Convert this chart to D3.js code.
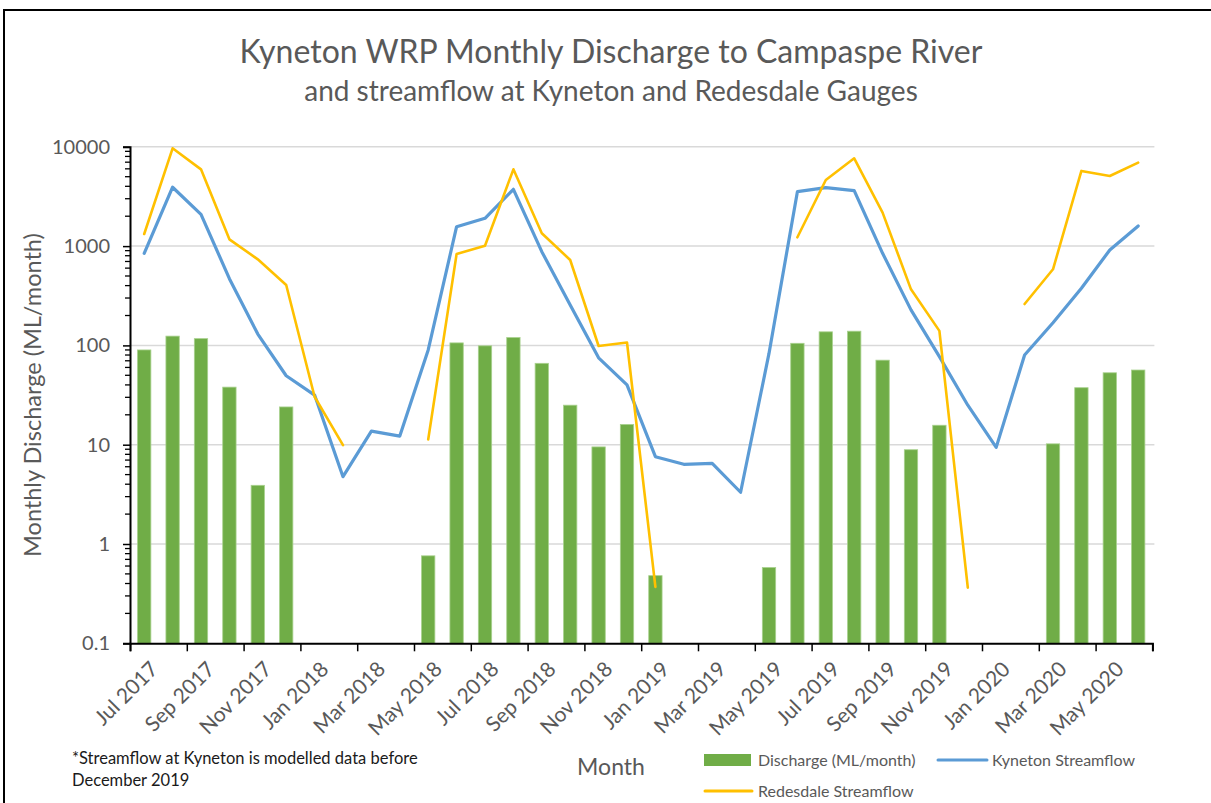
<!DOCTYPE html>
<html>
<head>
<meta charset="utf-8">
<title>Kyneton WRP Monthly Discharge</title>
<script src="https://d3js.org/d3.v7.min.js"></script>
<style>
  body { margin: 0; background: #fff; }
  text { font-family: Lato, "Open Sans", sans-serif; }
</style>
</head>
<body>
<div id="chart"></div>
<script>
// month categories, Jul 2017 .. Jun 2020
const months = [
  "Jul 2017", "Aug 2017", "Sep 2017", "Oct 2017", "Nov 2017", "Dec 2017",
  "Jan 2018", "Feb 2018", "Mar 2018", "Apr 2018", "May 2018", "Jun 2018",
  "Jul 2018", "Aug 2018", "Sep 2018", "Oct 2018", "Nov 2018", "Dec 2018",
  "Jan 2019", "Feb 2019", "Mar 2019", "Apr 2019", "May 2019", "Jun 2019",
  "Jul 2019", "Aug 2019", "Sep 2019", "Oct 2019", "Nov 2019", "Dec 2019",
  "Jan 2020", "Feb 2020", "Mar 2020", "Apr 2020", "May 2020", "Jun 2020"
];

// WRP discharge (ML/month), null = no discharge
const discharge = [
  90, 124, 117, 38, 3.9, 24, null, null, null, null,
  0.76, 106, 99, 120, 66, 25, 9.5, 16, 0.48, null,
  null, null, 0.58, 105, 137, 139, 71, 8.9, 15.7, null,
  null, null, 10.2, 37.5, 53, 56.5
];

// Kyneton streamflow
const kyneton = [
  846, 3916, 2089, 470, 130, 49.5, 31.6, 4.76, 13.7, 12.2,
  90, 1567, 1905, 3733, 879, 255, 75, 40, 7.57, 6.35,
  6.5, 3.32, 83, 3532, 3873, 3614, 846, 228, 77, 25,
  9.4, 80, 169, 376, 914, 1592
];

// Redesdale streamflow
const redesdale = [
  1324, 9660, 5929, 1170, 736, 406, 30.4, 9.9, null, null,
  11.3, 832, 1009, 5930, 1345, 725, 98.6, 107, 0.37, null,
  null, null, null, 1227, 4634, 7656, 2172, 367, 140, 0.363,
  null, 261, 584, 5716, 5082, 6920
];

const yTicks = [0.1, 1, 10, 100, 1000, 10000];

const W = 1211, H = 803;
const pLeft = 130, pRight = 1152.4, pTop = 146.8, pBottom = 643.3;
const grey = "#595959";

const svg = d3.select("#chart").append("svg")
    .attr("width", W).attr("height", H);

// chart frame
svg.append("rect")
    .attr("x", 4).attr("y", 10).attr("width", 1300).attr("height", 900)
    .attr("fill", "#fff").attr("stroke", "#000").attr("stroke-width", 2);

const x = d3.scaleBand()
    .domain(d3.range(months.length))
    .range([pLeft, pRight])
    .paddingInner(0.53)
    .paddingOuter(0.265);
const xl = d3.scaleLinear().domain([0, months.length]).range([pLeft, pRight]);
const y = d3.scaleLog().domain([0.1, 10000]).range([pBottom, pTop]);
const cx = i => x(i) + x.bandwidth() / 2;

// gridlines
svg.append("g").selectAll("line")
    .data(yTicks.slice(1))
    .join("line")
    .attr("x1", pLeft).attr("x2", pRight + 2)
    .attr("y1", d => y(d)).attr("y2", d => y(d))
    .attr("stroke", "#d9d9d9").attr("stroke-width", 1.5);

// bars
svg.append("g").selectAll("rect")
    .data(discharge.map((v, i) => ({v, i})).filter(d => d.v != null))
    .join("rect")
    .attr("x", d => x(d.i))
    .attr("width", x.bandwidth())
    .attr("y", d => y(d.v))
    .attr("height", d => y(0.1) - y(d.v))
    .attr("fill", "#70ad47")
    .attr("stroke", "#a9d18e").attr("stroke-width", 0.8);

// lines
const line = d3.line()
    .defined(d => d != null)
    .x((d, i) => cx(i))
    .y(d => y(d));

svg.append("path").datum(kyneton)
    .attr("d", line).attr("fill", "none")
    .attr("stroke", "#5b9bd5").attr("stroke-width", 3.2)
    .attr("stroke-linejoin", "round").attr("stroke-linecap", "round");

svg.append("path").datum(redesdale)
    .attr("d", line).attr("fill", "none")
    .attr("stroke", "#ffc000").attr("stroke-width", 2.6)
    .attr("stroke-linejoin", "round").attr("stroke-linecap", "round");

// minor log ticks
const minor = [];
yTicks.slice(0, -1).forEach(d => { for (let k = 2; k < 10; k++) minor.push(d * k); });
svg.append("g").selectAll("line")
    .data(minor)
    .join("line")
    .attr("x1", pLeft - 5).attr("x2", pLeft)
    .attr("y1", d => y(d)).attr("y2", d => y(d))
    .attr("stroke", "#000").attr("stroke-width", 1.3);

// y axis
const yAxis = svg.append("g")
    .attr("transform", `translate(${pLeft},0)`)
    .call(d3.axisLeft(y).tickValues(yTicks).tickFormat(d => d).tickSize(7).tickPadding(13));
yAxis.select(".domain").attr("stroke", "#000").attr("stroke-width", 2);
yAxis.selectAll(".tick line").attr("stroke", "#000").attr("stroke-width", 1.5);
yAxis.selectAll(".tick text")
    .attr("fill", grey).style("font-size", "20px").style("font-family", "Lato");

// x axis
const xAxis = svg.append("g")
    .attr("transform", `translate(0,${pBottom})`)
    .call(d3.axisBottom(xl).tickValues(d3.range(0, months.length + 1, 2)).tickSize(8).tickFormat(""));
xAxis.select(".domain").attr("stroke", "#000").attr("stroke-width", 2);
xAxis.selectAll(".tick line").attr("stroke", "#000").attr("stroke-width", 1.5);

svg.append("g").selectAll("text")
    .data(d3.range(0, months.length, 2))
    .join("text")
    .attr("transform", i => `translate(${cx(i) + 10},${pBottom + 22}) rotate(-45)`)
    .attr("text-anchor", "end")
    .attr("dy", "0.35em")
    .attr("fill", grey)
    .style("font-size", "21px")
    .text(i => months[i]);

// titles
svg.append("text")
    .attr("x", 611).attr("y", 63)
    .attr("text-anchor", "middle").attr("fill", grey)
    .style("font-size", "32px")
    .text("Kyneton WRP Monthly Discharge to Campaspe River");

svg.append("text")
    .attr("x", 611).attr("y", 101)
    .attr("text-anchor", "middle").attr("fill", grey)
    .style("font-size", "28px")
    .text("and streamflow at Kyneton and Redesdale Gauges");

svg.append("text")
    .attr("transform", `translate(41,${(pTop + pBottom) / 2}) rotate(-90)`)
    .attr("text-anchor", "middle").attr("fill", grey)
    .style("font-size", "23.5px")
    .text("Monthly Discharge (ML/month)");

svg.append("text")
    .attr("x", 611).attr("y", 775)
    .attr("text-anchor", "middle").attr("fill", grey)
    .style("font-size", "23px")
    .text("Month");

// footnote
const note = svg.append("text").attr("fill", "#1a1a1a").style("font-size", "16.5px");
note.append("tspan").attr("x", 72).attr("y", 764).text("*Streamflow at Kyneton is modelled data before");
note.append("tspan").attr("x", 72).attr("y", 786).text("December 2019");

// legend
const leg = svg.append("g").style("font-size", "16px");
leg.append("rect").attr("x", 704).attr("y", 754).attr("width", 47).attr("height", 12).attr("fill", "#70ad47");
leg.append("text").attr("x", 758).attr("y", 760).attr("dy", "0.35em").attr("fill", grey).text("Discharge (ML/month)");
leg.append("line").attr("x1", 938).attr("x2", 987).attr("y1", 760).attr("y2", 760)
    .attr("stroke", "#5b9bd5").attr("stroke-width", 3).attr("stroke-linecap", "round");
leg.append("text").attr("x", 992).attr("y", 760).attr("dy", "0.35em").attr("fill", grey).text("Kyneton Streamflow");
leg.append("line").attr("x1", 705).attr("x2", 752).attr("y1", 791).attr("y2", 791)
    .attr("stroke", "#ffc000").attr("stroke-width", 3).attr("stroke-linecap", "round");
leg.append("text").attr("x", 758).attr("y", 791).attr("dy", "0.35em").attr("fill", grey).text("Redesdale Streamflow");
</script>
</body>
</html>
